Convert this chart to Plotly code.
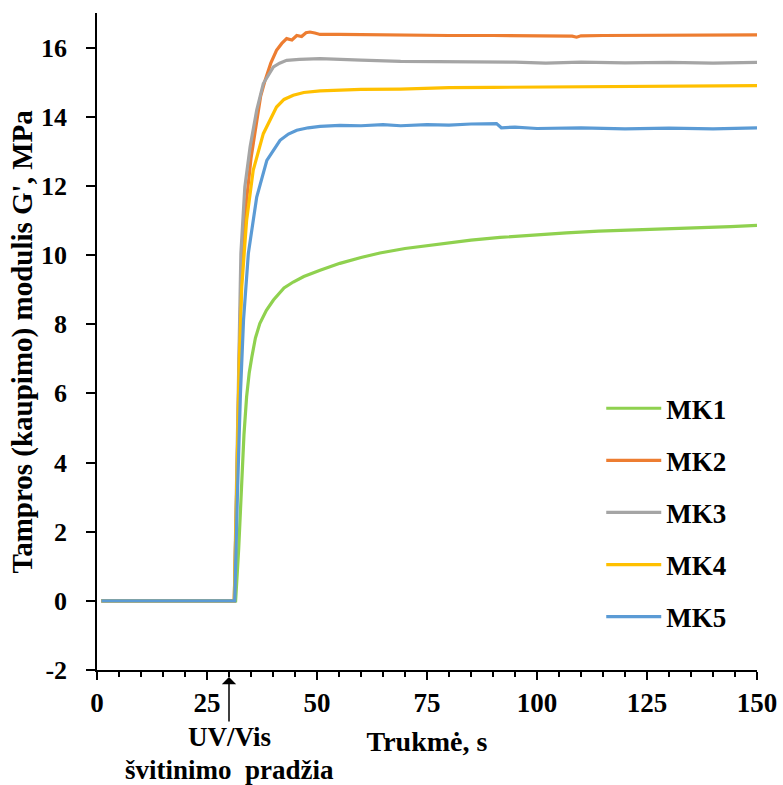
import plotly.graph_objects as go

# ---- data ----
t_mk1 = [1, 15, 30, 31.5, 32.2, 32.8, 33.4, 34.0, 34.6, 35.2, 36.0, 37.0, 38.5, 40.1, 42.5, 44.6, 47, 50.7,
         55.2, 60, 64.3, 70, 78, 85, 91.6, 99, 106.7, 114, 121.9, 130, 137, 144, 150]
v_mk1 = [0, 0, 0, 0, 1.5, 3.2, 4.8, 5.9, 6.6, 7.06, 7.6, 8.02, 8.4, 8.70, 9.05, 9.22, 9.38, 9.56,
         9.76, 9.93, 10.06, 10.19, 10.33, 10.43, 10.51, 10.58, 10.64, 10.69, 10.72, 10.76, 10.79, 10.82, 10.86]

t_mk2 = [1, 15, 30, 31.2, 31.8, 32.5, 33.1, 34.0, 35.0, 36.3, 37.2, 38.2, 39.5, 40.8, 42.0, 43.1, 44.3,
         45.4, 46.5, 47.5, 48.4, 49.5, 50.7, 55, 60, 65, 70, 80, 90, 100, 105, 108, 109, 110, 115, 125, 135, 145, 150]
v_mk2 = [0, 0, 0, 0, 3.5, 8.1, 10.1, 11.6, 12.8, 13.9, 14.6, 15.05, 15.55, 15.92, 16.12, 16.26, 16.22,
         16.35, 16.32, 16.43, 16.45, 16.42, 16.38, 16.38, 16.37, 16.36, 16.37, 16.35, 16.35, 16.34, 16.35, 16.33, 16.30, 16.34, 16.35, 16.35, 16.36, 16.36, 16.37]

t_mk3 = [1, 15, 30, 31.2, 31.8, 32.3, 32.7, 33.6, 34.8, 36.3, 37.8, 40.1, 41.5, 43.1, 46, 50.7, 55.2, 60,
         69, 80, 95, 102, 110, 120, 130, 140, 150]
v_mk3 = [0, 0, 0, 0, 4.0, 7.5, 10.05, 11.97, 13.13, 14.19, 14.96, 15.44, 15.55, 15.63, 15.66, 15.68, 15.65, 15.64,
         15.60, 15.60, 15.58, 15.55, 15.58, 15.56, 15.57, 15.55, 15.57]

t_mk4 = [1, 15, 30, 31.2, 31.8, 32.3, 32.9, 34.0, 35.5, 37.8, 40.8, 42.5, 44.6, 47, 50.7, 55.2, 60, 69,
         80, 90, 100, 110, 120, 130, 140, 150]
v_mk4 = [0, 0, 0, 0, 3.5, 6.8, 9.08, 11.0, 12.45, 13.51, 14.28, 14.5, 14.62, 14.70, 14.75, 14.78, 14.79, 14.80,
         14.84, 14.85, 14.86, 14.87, 14.87, 14.89, 14.89, 14.90]

t_mk5 = [1, 15, 30, 31.3, 31.9, 32.6, 33.3, 34.4, 36.3, 38.6, 41.6, 43.5, 45.4, 48, 50.7, 55.2, 60, 65, 69,
         75, 80, 85, 90.8, 91.9, 95, 100, 110, 120, 130, 140, 150]
v_mk5 = [0, 0, 0, 0, 3.0, 6.0, 8.12, 10.05, 11.68, 12.74, 13.32, 13.50, 13.61, 13.68, 13.72, 13.75, 13.74, 13.77, 13.74,
         13.77, 13.76, 13.79, 13.80, 13.68, 13.70, 13.66, 13.68, 13.65, 13.67, 13.65, 13.68]

names = ["MK1", "MK2", "MK3", "MK4", "MK5"]
colors = ["#8FD14F", "#ED7D31", "#A5A5A5", "#FFC000", "#5B9BD5"]
series = [(t_mk1, v_mk1), (t_mk2, v_mk2), (t_mk3, v_mk3), (t_mk4, v_mk4), (t_mk5, v_mk5)]
y_ticks = [-2, 0, 2, 4, 6, 8, 10, 12, 14, 16]
y_ticktext = ["-2", "0", "2", "4", "6", "8", "10", "12", "14", "16"]

FONT = "Times New Roman, Liberation Serif, serif"

fig = go.Figure()
for name, col, (t, v) in zip(names, colors, series):
    fig.add_trace(go.Scatter(x=t, y=v, mode="lines", name=name, legendgroup=name,
                             line=dict(color=col, width=3.2)))

fig.update_layout(
    width=783, height=785,
    margin=dict(l=97, r=26, t=13, b=115),
    paper_bgcolor="white", plot_bgcolor="white",
    font=dict(family=FONT, color="black", weight="bold"),
    showlegend=True,
    legend=dict(x=0.764, y=0.435, xanchor="left", yanchor="top",
                font=dict(family=FONT, size=27, color="black", weight="bold"),
                tracegroupgap=14, itemwidth=55, bgcolor="rgba(0,0,0,0)"),
    xaxis=dict(range=[0, 150], tickmode="linear", tick0=0, dtick=25, automargin=False,
               ticks="outside", ticklen=8, tickwidth=1.5, tickcolor="black",
               minor=dict(dtick=5, ticks="outside", ticklen=5, tickwidth=1.5, tickcolor="black"),
               showline=True, linecolor="black", linewidth=1.5,
               showgrid=False, zeroline=False, ticklabelstandoff=0,
               tickfont=dict(family=FONT, size=27, color="black", weight="bold"),
               title=dict(text="Trukmė, s", standoff=14,
                          font=dict(family=FONT, size=28, color="black", weight="bold"))),
    yaxis=dict(range=[-2, 17], tickmode="array", tickvals=y_ticks, ticktext=y_ticktext, automargin=False,
               ticks="outside", ticklen=9, tickwidth=1.5, tickcolor="black",
               showline=True, linecolor="black", linewidth=1.5,
               showgrid=False, zeroline=False, ticklabelstandoff=14,
               tickfont=dict(family=FONT, size=26, color="black", weight="bold")),
)

# y-axis title as rotated text
fig.add_annotation(x=-0.1136, xref="paper", y=0.5, yref="paper", xanchor="center", yanchor="middle",
                   text="Tampros (kaupimo) modulis G', MPa", textangle=-90, showarrow=False,
                   font=dict(family=FONT, size=29, color="black", weight="bold"))

# UV/Vis start arrow
fig.add_annotation(x=30, xref="x", y=-0.0107, yref="paper", text="", showarrow=True,
                   ax=0, ay=46, arrowhead=1, arrowsize=1.6, arrowwidth=1.5, arrowcolor="black")
fig.add_annotation(x=30, xref="x", y=-0.102, yref="paper", yanchor="middle",
                   text="UV/Vis", showarrow=False,
                   font=dict(family=FONT, size=27, color="black", weight="bold"))
fig.add_annotation(x=30, xref="x", y=-0.152, yref="paper", yanchor="middle",
                   text="švitinimo\u00a0 pradžia", showarrow=False,
                   font=dict(family=FONT, size=27, color="black", weight="bold"))

fig.write_html("out.html")
